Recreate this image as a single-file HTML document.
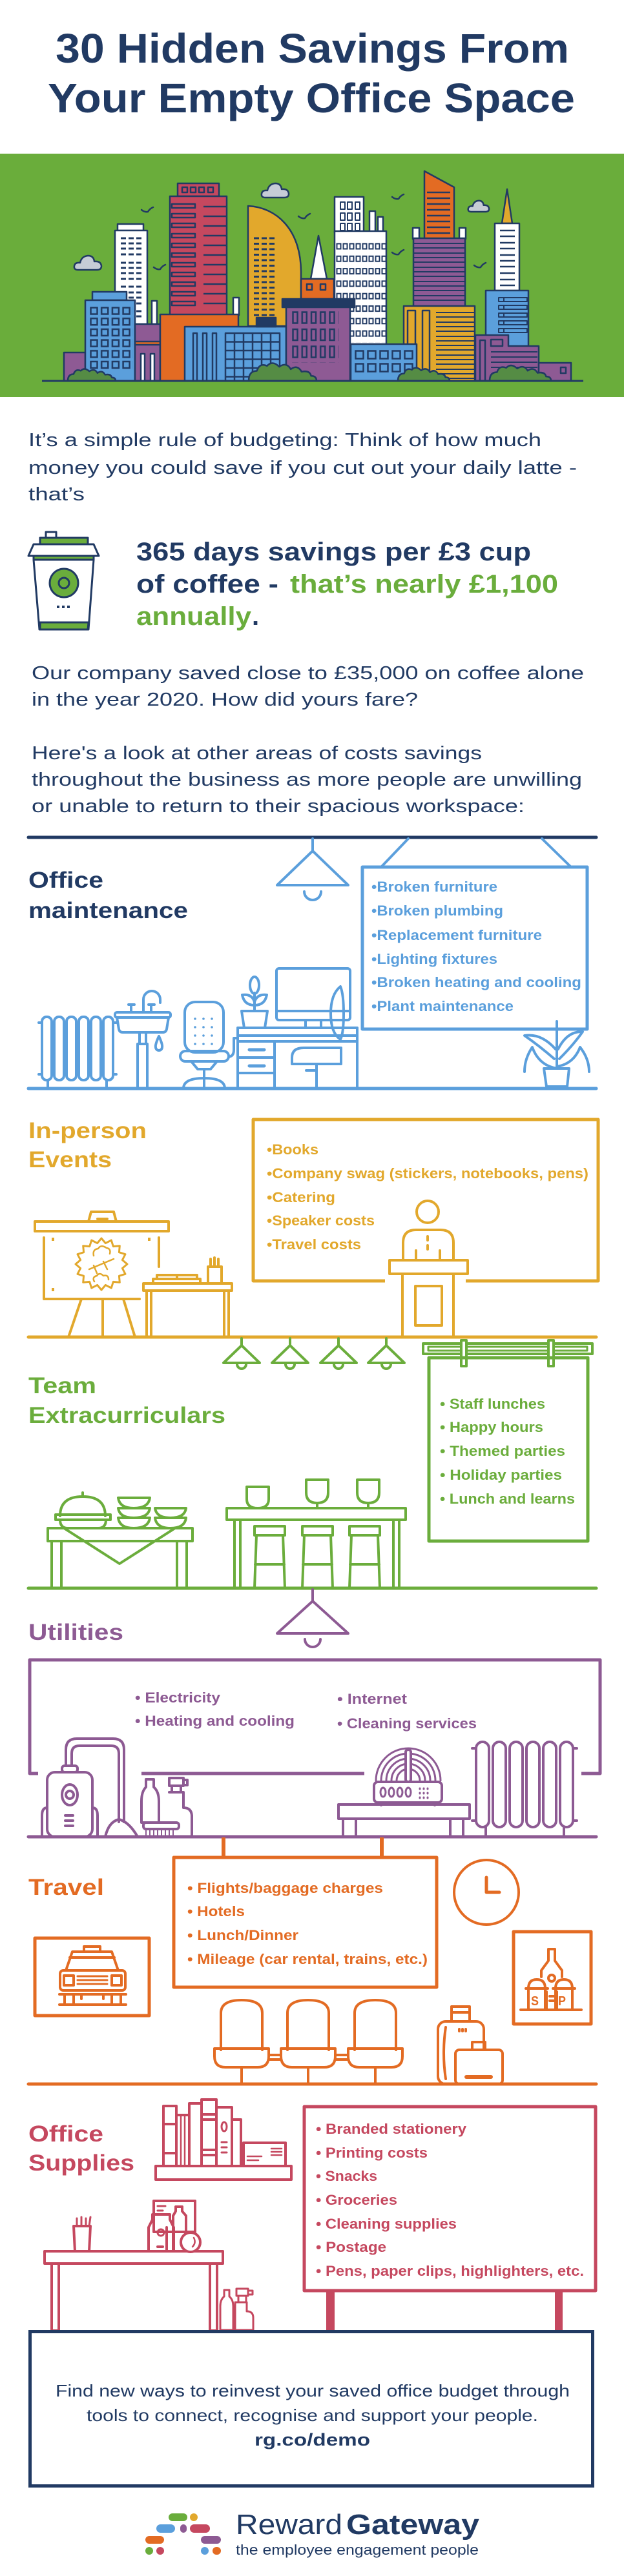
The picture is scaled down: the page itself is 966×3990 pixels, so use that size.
<!DOCTYPE html>
<html><head><meta charset="utf-8">
<style>
html,body{margin:0;padding:0;background:#fff;}
svg{display:block;}
text{font-family:"Liberation Sans",Arial,sans-serif;}
</style></head><body>
<svg width="966" height="3990" viewBox="0 0 966 3990" xmlns="http://www.w3.org/2000/svg">
<defs>
<pattern id="bw" x="139" y="475" width="16.7" height="16.7" patternUnits="userSpaceOnUse"><rect x="1.5" y="1.5" width="10" height="10" fill="#5b9fdc" stroke="#213a63" stroke-width="2.5"/></pattern>
<pattern id="pw" x="452" y="482" width="14.25" height="26.5" patternUnits="userSpaceOnUse"><rect x="1.5" y="1.5" width="7" height="17" fill="#8e5a94" stroke="#213a63" stroke-width="2.5"/></pattern>
<pattern id="lw" x="549" y="542" width="19" height="20" patternUnits="userSpaceOnUse"><rect x="1.5" y="1.5" width="12" height="12" fill="#5b9fdc" stroke="#213a63" stroke-width="2.5"/></pattern>
<pattern id="ow" x="520" y="376" width="10" height="19.3" patternUnits="userSpaceOnUse"><rect x="1.5" y="1.5" width="6" height="8" fill="#fff" stroke="#213a63" stroke-width="2"/></pattern>
</defs>

<!-- TITLE -->
<text x="86" y="97" font-size="64" font-weight="bold" fill="#213a63" textLength="795" lengthAdjust="spacingAndGlyphs">30 Hidden Savings From</text>
<text x="74" y="174" font-size="64" font-weight="bold" fill="#213a63" textLength="816" lengthAdjust="spacingAndGlyphs">Your Empty Office Space</text>

<!-- BANNER -->
<rect x="0" y="238" width="966" height="377" fill="#6aad3b"/>
<g stroke="#213a63" stroke-width="2.5" stroke-linejoin="round">
<polygon points="657,265 703,290 703,370 657,370" fill="#e36b23"/>
<path d="M661,298H697M661,307H697M661,316H697M661,325H697M661,334H697M661,343H697M661,352H697M661,361H697" fill="none"/>
<rect x="639" y="353" width="10" height="17" fill="#fff"/>
<rect x="711" y="353" width="10" height="17" fill="#fff"/>
<rect x="640" y="369" width="80" height="105" fill="#8e5a94"/>
<path d="M640,377H720M640,384H720M640,392H720M640,399H720M640,406H720M640,414H720M640,421H720M640,428H720M640,436H720M640,443H720M640,450H720M640,458H720M640,465H720" fill="none" stroke-width="2"/>
<polygon points="785,293 777,346 793,346" fill="#e2a82c"/>
<rect x="766" y="346" width="38" height="104" fill="#fff"/>
<path d="M774,357H797M774,366H797M774,376H797M774,385H797M774,395H797M774,404H797M774,413H797M774,423H797M774,433H797M774,442H797" fill="none"/>
<rect x="752" y="450" width="66" height="86" fill="#5b9fdc"/>
<path d="M772,461H816V467H772ZM772,473H816V479H772ZM772,485H816V491H772ZM772,497H816V503H772ZM772,509H816V515H772ZM780,461V467M780,473V479M780,485V491M780,497V503M780,509V515" fill="none" stroke-width="2"/>
<path d="M736,590V519H787V536H834V590Z" fill="#8e5a94"/>
<rect x="743" y="527" width="8" height="63" fill="none"/>
<rect x="760" y="526" width="18" height="10" fill="none"/>
<path d="M760,545H832M760,553H832M760,561H832M760,569H832" fill="none" stroke-width="2"/>
<rect x="834" y="562" width="50" height="28" fill="#8e5a94"/>
<rect x="868" y="569" width="8" height="9" fill="none"/>
<rect x="625" y="474" width="110" height="116" fill="#e2a82c"/>
<rect x="631" y="481" width="12" height="109" fill="#e2a82c"/>
<rect x="654" y="481" width="11" height="109" fill="#e2a82c"/>
<path d="M675,484H735M675,491H735M675,499H735M675,506H735M675,513H735M675,521H735M675,528H735M675,535H735M675,542H735M675,550H735M675,557H735M675,564H735M675,572H735M675,579H735M675,586H735" fill="none" stroke-width="2"/>
<rect x="518" y="305" width="45" height="55" fill="#fff"/>
<rect x="572" y="327" width="9" height="33" fill="#fff"/>
<rect x="585" y="336" width="8" height="24" fill="#fff"/>
<rect x="518" y="358" width="80" height="175" fill="#fff"/>
<path d="M527,313h7v11h-7zM538,313h7v11h-7zM550,313h7v11h-7zM527,330h7v11h-7zM538,330h7v11h-7zM550,330h7v11h-7zM527,346h7v11h-7zM538,346h7v11h-7zM550,346h7v11h-7z" fill="none" stroke-width="2"/>
<rect x="520" y="376" width="78" height="155" fill="url(#ow)" stroke="none"/>
<rect x="182" y="347" width="40" height="10" fill="#fff"/>
<rect x="178" y="357" width="50" height="145" fill="#fff"/>
<path d="M187,369h8m4,0h8m4,0h8M187,377h8m4,0h8m4,0h8M187,385h8m4,0h8m4,0h8M187,394h8m4,0h8m4,0h8M187,407h8m4,0h8m4,0h8M187,415h8m4,0h8m4,0h8M187,423h8m4,0h8m4,0h8M187,432h8m4,0h8m4,0h8M187,444h8m4,0h8m4,0h8M187,453h8m4,0h8m4,0h8M187,461h8m4,0h8m4,0h8M187,470h8m4,0h8m4,0h8M187,482h8m4,0h8m4,0h8M187,490h8m4,0h8m4,0h8" fill="none" stroke-width="3"/>
<rect x="235" y="466" width="8" height="36" fill="#fff"/>
<rect x="361" y="461" width="9" height="27" fill="#fff"/>
<rect x="275" y="284" width="64" height="20" fill="#c5485f"/>
<path d="M282,290h8v8h-8zM295,290h8v8h-8zM308,290h8v8h-8zM322,290h8v8h-8z" fill="none"/>
<rect x="263" y="304" width="88" height="184" fill="#c5485f"/>
<path d="M266,316h36v6h-36zM266,331h36v6h-36zM266,346h36v6h-36zM266,362h36v6h-36zM266,377h36v6h-36zM266,392h36v6h-36zM266,407h36v6h-36zM266,422h36v6h-36zM266,437h36v6h-36zM266,452h36v6h-36zM266,467h36v6h-36z" fill="none"/>
<path d="M315,320H351M315,335H351M315,350H351M315,365H351M315,380H351M315,395H351M315,410H351M315,425H351M315,440H351M315,455H351M315,470H351" fill="none"/>
<path d="M384,505V319C428,321 465,355 466,420V505Z" fill="#e2a82c"/>
<path d="M393,369h8m4,0h8m4,0h8M393,377.5h8m4,0h8m4,0h8M393,386h8m4,0h8m4,0h8M393,394.5h8m4,0h8m4,0h8M393,403h8m4,0h8m4,0h8M393,411.5h8m4,0h8m4,0h8M393,420h8m4,0h8m4,0h8M393,428.5h8m4,0h8m4,0h8M393,437h8m4,0h8m4,0h8M393,445.5h8m4,0h8m4,0h8M393,454h8m4,0h8m4,0h8M393,462.5h8m4,0h8m4,0h8M393,471h8m4,0h8m4,0h8M393,479.5h8m4,0h8m4,0h8M393,488h8m4,0h8m4,0h8" fill="none" stroke-width="3"/>
<rect x="99" y="546" width="33" height="44" fill="#8e5a94"/>
<rect x="143" y="452" width="53" height="13" fill="#5b9fdc"/>
<rect x="132" y="465" width="77" height="125" fill="#5b9fdc"/>
<rect x="139" y="475" width="67" height="100" fill="url(#bw)" stroke="none"/>
<rect x="209" y="502" width="39" height="88" fill="#8e5a94"/>
<rect x="209" y="529" width="39" height="5" fill="#e36b23"/>
<rect x="218" y="548" width="6" height="42" fill="#fff"/>
<rect x="233" y="548" width="6" height="42" fill="#fff"/>
<rect x="248" y="487" width="121" height="103" fill="#e36b23"/>
<rect x="286" y="506" width="157" height="84" fill="#5b9fdc"/>
<rect x="299" y="516" width="6" height="74" fill="#5b9fdc"/>
<rect x="314" y="516" width="6" height="74" fill="#5b9fdc"/>
<rect x="329" y="516" width="6" height="74" fill="#5b9fdc"/>
<rect x="349" y="516" width="84" height="74" fill="#5b9fdc"/>
<path d="M363,516V590M377,516V590M391,516V590M405,516V590M419,516V590M349,529.5H433M349,543H433M349,556.5H433M349,570H433M349,583.5H433" fill="none"/>
<rect x="397" y="492" width="30" height="14" fill="#213a63"/>
<polygon points="493,365 481,432 506,432" fill="#fff"/>
<rect x="466" y="432" width="51" height="31" fill="#e36b23"/>
<rect x="475" y="440" width="8" height="9" fill="none"/>
<rect x="496" y="440" width="8" height="9" fill="none"/>
<rect x="437" y="463" width="112" height="13" fill="#213a63"/>
<rect x="443" y="476" width="99" height="114" fill="#8e5a94"/>
<rect x="452" y="482" width="72" height="80" fill="url(#pw)" stroke="none"/>
<rect x="543" y="533" width="102" height="57" fill="#5b9fdc"/>
<rect x="549" y="542" width="96" height="40" fill="url(#lw)" stroke="none"/>
<!-- bushes -->
<g fill="#558c44">
<path transform="translate(105,569) scale(0.74,0.875)" vector-effect="non-scaling-stroke" d="M0,24Q0,12 12,12Q16,2 27,6Q35,-1 45,7Q56,1 62,10Q72,4 78,13Q90,11 92,18Q100,18 100,24Z"/>
<path transform="translate(385,559) scale(1.05,1.29)" vector-effect="non-scaling-stroke" d="M0,24Q0,12 12,12Q16,2 27,6Q35,-1 45,7Q56,1 62,10Q72,4 78,13Q90,11 92,18Q100,18 100,24Z"/>
<path transform="translate(616,567) scale(0.8,0.96)" vector-effect="non-scaling-stroke" d="M0,24Q0,12 12,12Q16,2 27,6Q35,-1 45,7Q56,1 62,10Q72,4 78,13Q90,11 92,18Q100,18 100,24Z"/>
<path transform="translate(758,563) scale(0.95,1.12)" vector-effect="non-scaling-stroke" d="M0,24Q0,12 12,12Q16,2 27,6Q35,-1 45,7Q56,1 62,10Q72,4 78,13Q90,11 92,18Q100,18 100,24Z"/>
</g>
<line x1="65" y1="590" x2="903" y2="590" stroke-width="3"/>
<!-- clouds -->
<g fill="#c6ccd6">
<path transform="translate(404,283)" d="M7,23Q0,23 1,17Q2,11 10,12Q12,2 22,1Q31,1 32,10Q42,9 43,17Q43,23 36,23Z"/>
<path transform="translate(724,310) scale(0.77,0.78)" vector-effect="non-scaling-stroke" d="M7,23Q0,23 1,17Q2,11 10,12Q12,2 22,1Q31,1 32,10Q42,9 43,17Q43,23 36,23Z"/>
<path transform="translate(114,395)" d="M7,23Q0,23 1,17Q2,11 10,12Q12,2 22,1Q31,1 32,10Q42,9 43,17Q43,23 36,23Z"/>
</g>
<g fill="none" stroke-width="2.5" stroke-linecap="round">
<path d="M219,325Q224,329 229,328Q232,323 237,321"/>
<path d="M238,414Q243,418 248,417Q251,412 256,410"/>
<path d="M462,335Q467,339 472,338Q475,333 480,331"/>
<path d="M607,305Q612,309 617,308Q620,303 625,301"/>
<path d="M607,391Q612,395 617,394Q620,389 625,387"/>
<path d="M734,411Q739,415 744,414Q747,409 752,407"/>
</g>
</g>

<!-- INTRO -->
<g font-size="29" fill="#213a63">
<text x="44" y="691" textLength="794" lengthAdjust="spacingAndGlyphs">It’s a simple rule of budgeting: Think of how much</text>
<text x="44" y="734" textLength="849" lengthAdjust="spacingAndGlyphs">money you could save if you cut out your daily latte -</text>
<text x="44" y="775" textLength="87" lengthAdjust="spacingAndGlyphs">that’s</text>
<text x="49" y="1052" textLength="855" lengthAdjust="spacingAndGlyphs">Our company saved close to £35,000 on coffee alone</text>
<text x="49" y="1093" textLength="598" lengthAdjust="spacingAndGlyphs">in the year 2020. How did yours fare?</text>
<text x="49" y="1176" textLength="697" lengthAdjust="spacingAndGlyphs">Here's a look at other areas of costs savings</text>
<text x="49" y="1217" textLength="852" lengthAdjust="spacingAndGlyphs">throughout the business as more people are unwilling</text>
<text x="49" y="1258" textLength="763" lengthAdjust="spacingAndGlyphs">or unable to return to their spacious workspace:</text>
</g>

<!-- COFFEE -->
<g stroke="#213a63" stroke-width="3" stroke-linejoin="round">
<rect x="71" y="824" width="16" height="9" fill="#fff"/>
<rect x="62" y="833" width="74" height="10" fill="#6aad3c"/>
<polygon points="52,843 145,843 153,861 44,861" fill="#fff"/>
<rect x="52" y="861" width="93" height="6" fill="#6aad3c"/>
<polygon points="52,867 145,867 137,975 61,975" fill="#fff"/>
<polygon points="62,964 137,964 136,975 62,975" fill="#6aad3c"/>
<circle cx="99" cy="903" r="22" fill="#6aad3c"/>
<circle cx="99" cy="903" r="8" fill="#6aad3c"/>
</g>
<g fill="#213a63"><rect x="88" y="938" width="4" height="4"/><rect x="96" y="938" width="4" height="4"/><rect x="104" y="938" width="4" height="4"/></g>
<g font-size="40" font-weight="bold">
<text x="211" y="868" fill="#213a63" textLength="611" lengthAdjust="spacingAndGlyphs">365 days savings per £3 cup</text>
<text x="211" y="918" fill="#213a63" textLength="220" lengthAdjust="spacingAndGlyphs">of coffee -</text>
<text x="449" y="918" fill="#6aad3c" textLength="415" lengthAdjust="spacingAndGlyphs">that’s nearly £1,100</text>
<text x="211" y="968" fill="#6aad3c" textLength="178" lengthAdjust="spacingAndGlyphs">annually</text>
<text x="390" y="968" fill="#213a63">.</text>
</g>

<!-- OFFICE MAINTENANCE -->
<line x1="44" y1="1297" x2="923" y2="1297" stroke="#213a63" stroke-width="5" stroke-linecap="round"/>
<g font-size="35" font-weight="bold" fill="#213a63">
<text x="44" y="1375" textLength="116" lengthAdjust="spacingAndGlyphs">Office</text>
<text x="44" y="1422" textLength="247" lengthAdjust="spacingAndGlyphs">maintenance</text>
</g>
<g fill="none" stroke="#5b9fdc" stroke-width="4" stroke-linecap="round" stroke-linejoin="round">
<line x1="484" y1="1299" x2="484" y2="1318"/>
<polygon points="484,1318 429,1371 539,1371"/>
<path d="M471,1381A13,13 0 0 0 497,1381"/>
<line x1="632" y1="1299" x2="590" y2="1343"/>
<line x1="839" y1="1299" x2="884" y2="1343"/>
<rect x="561" y="1343" width="348" height="251" stroke-width="5" stroke-linecap="butt"/>
<line x1="44" y1="1686" x2="923" y2="1686" stroke-width="5"/>
<rect x="65" y="1575" width="15" height="98" rx="7"/>
<rect x="84" y="1575" width="15" height="98" rx="7"/>
<rect x="103" y="1575" width="15" height="98" rx="7"/>
<rect x="122" y="1575" width="15" height="98" rx="7"/>
<rect x="141" y="1575" width="15" height="98" rx="7"/>
<rect x="160" y="1575" width="15" height="98" rx="7"/>
<path d="M74,1673V1686M165,1673V1686M60,1584H65M175,1584H180M60,1664H65M175,1664H180"/>
<rect x="178" y="1568" width="86" height="8" rx="3"/>
<path d="M181,1576L184,1594Q185,1599 190,1599H252Q257,1599 258,1594L261,1576"/>
<path d="M216,1599V1617M226,1599V1617"/>
<rect x="213" y="1617" width="15" height="69"/>
<path d="M222,1568V1548A13,13 0 0 1 248,1548V1553"/>
<path d="M203,1567V1558M199,1556H208M234,1567V1558M230,1556H239"/>
<path d="M246,1605Q240,1618 241,1622A5,5 0 0 0 251,1622Q252,1618 246,1605Z"/>
<rect x="286" y="1552" width="60" height="78" rx="16"/>
<rect x="279" y="1628" width="75" height="16" rx="8"/>
<path d="M296,1644L306,1656H326L336,1644M316,1656V1686M284,1686Q284,1670 316,1670Q348,1670 348,1686"/>
<path d="M354,1637Q362,1636 362,1626V1608H368"/>
<rect x="368" y="1592" width="185" height="21"/>
<line x1="368" y1="1604" x2="553" y2="1604"/>
<rect x="368" y="1613" width="57" height="73"/>
<path d="M368,1638H425M368,1662H425M553,1613V1686"/>
<path d="M386,1626H409M386,1651H409" stroke-width="5"/>
<rect x="428" y="1500" width="114" height="80" rx="4"/>
<path d="M428,1566H542M473,1580V1592M497,1580V1592"/>
<path d="M374,1566H414L410,1592H378Z"/>
<path d="M394,1566V1538"/>
<ellipse cx="394" cy="1526" rx="7" ry="13"/>
<path d="M394,1557Q378,1557 375,1541Q390,1539 394,1552M394,1557Q410,1557 413,1541Q398,1539 394,1552"/>
<path d="M527,1528Q512,1540 512,1570Q512,1600 527,1610Q532,1600 532,1570Q532,1540 527,1528Z"/>
<path d="M452,1648V1638Q452,1623 470,1623H528V1648Z"/>
<path d="M490,1648V1686M474,1658H490"/>
<path d="M842,1655H881L878,1683H846Z"/>
<path d="M862,1582V1655"/>
<path d="M862,1655Q834,1650 824,1622Q812,1640 812,1660M862,1652Q888,1648 898,1622Q912,1640 912,1660"/>
<path d="M858,1640Q835,1620 812,1604Q838,1600 860,1625M866,1640Q888,1618 902,1598Q878,1597 864,1625"/>
</g>
<g fill="#5b9fdc">
<circle cx="302" cy="1578" r="1.8"/><circle cx="315" cy="1578" r="1.8"/><circle cx="328" cy="1578" r="1.8"/>
<circle cx="302" cy="1591" r="1.8"/><circle cx="315" cy="1591" r="1.8"/><circle cx="328" cy="1591" r="1.8"/>
<circle cx="302" cy="1604" r="1.8"/><circle cx="315" cy="1604" r="1.8"/><circle cx="328" cy="1604" r="1.8"/>
<circle cx="302" cy="1617" r="1.8"/><circle cx="315" cy="1617" r="1.8"/><circle cx="328" cy="1617" r="1.8"/>
</g>
<g font-size="22" font-weight="bold" fill="#5b9fdc">
<text x="575" y="1381" textLength="195" lengthAdjust="spacingAndGlyphs">•Broken furniture</text>
<text x="575" y="1418" textLength="204" lengthAdjust="spacingAndGlyphs">•Broken plumbing</text>
<text x="575" y="1456" textLength="264" lengthAdjust="spacingAndGlyphs">•Replacement furniture</text>
<text x="575" y="1493" textLength="195" lengthAdjust="spacingAndGlyphs">•Lighting fixtures</text>
<text x="575" y="1529" textLength="325" lengthAdjust="spacingAndGlyphs">•Broken heating and cooling</text>
<text x="575" y="1566" textLength="220" lengthAdjust="spacingAndGlyphs">•Plant maintenance</text>
</g>

<!-- IN-PERSON EVENTS -->
<g font-size="35" font-weight="bold" fill="#e2a82c">
<text x="44" y="1763" textLength="183" lengthAdjust="spacingAndGlyphs">In-person</text>
<text x="44" y="1808" textLength="129" lengthAdjust="spacingAndGlyphs">Events</text>
</g>
<g font-size="22" font-weight="bold" fill="#e2a82c">
<text x="413" y="1788" textLength="80" lengthAdjust="spacingAndGlyphs">•Books</text>
<text x="413" y="1825" textLength="498" lengthAdjust="spacingAndGlyphs">•Company swag (stickers, notebooks, pens)</text>
<text x="413" y="1862" textLength="106" lengthAdjust="spacingAndGlyphs">•Catering</text>
<text x="413" y="1898" textLength="167" lengthAdjust="spacingAndGlyphs">•Speaker costs</text>
<text x="413" y="1935" textLength="146" lengthAdjust="spacingAndGlyphs">•Travel costs</text>
</g>
<g fill="none" stroke="#e2a82c" stroke-width="4" stroke-linecap="round" stroke-linejoin="round">
<path d="M596,1984H392V1734H926V1984H721" stroke-width="5" stroke-linecap="butt"/>
<rect x="54" y="1892" width="207" height="15"/>
<path d="M137,1892L141,1877H176L180,1892M151,1888H166"/>
<path d="M68,1917V2012H216M246,1917V1962"/>
<path d="M106,2071L126,2012M159,2012V2071M191,2012L209,2071"/>
<polygon stroke-width="3" points="197,1958 189.4,1964.4 194,1973.3 184.4,1976.3 185.3,1986.3 175.3,1985.4 172.3,1995 163.4,1990.4 157,1998 150.6,1990.4 141.7,1995 138.7,1985.4 128.7,1986.3 129.6,1976.3 120,1973.3 124.6,1964.4 117,1958 124.6,1951.6 120,1942.7 129.6,1939.7 128.7,1929.7 138.7,1930.6 141.7,1921 150.6,1925.6 157,1918 163.4,1925.6 172.3,1921 175.3,1930.6 185.3,1929.7 184.4,1939.7 194,1942.7 189.4,1951.6"/>
<path stroke-width="2.5" d="M145,1945Q143,1935 152,1934Q156,1927 165,1933Q172,1934 170,1942M138,1966L176,1950M145,1960L150,1972M160,1954L166,1966M146,1985Q142,1978 150,1976Q154,1970 160,1976Q168,1974 168,1982"/>
<rect x="222" y="1988" width="137" height="11"/>
<rect x="227" y="1999" width="7" height="72"/>
<rect x="347" y="1999" width="7" height="72"/>
<rect x="237" y="1981" width="73" height="7"/>
<path d="M243,1981V1975H305V1981M274,1975V1981"/>
<rect x="322" y="1962" width="21" height="26"/>
<path d="M326,1962V1950M332,1962V1948M338,1962V1950"/>
<circle cx="662" cy="1877" r="17"/>
<path d="M624,1952V1925Q624,1905 644,1905H682Q702,1905 702,1925V1952"/>
<path d="M644,1937V1952M681,1937V1952M662,1915V1921M662,1929V1935"/>
<rect x="603" y="1952" width="121" height="21"/>
<rect x="623" y="1973" width="79" height="98"/>
<rect x="643" y="1992" width="41" height="61"/>
<line x1="44" y1="2071" x2="923" y2="2071" stroke-width="5"/>
</g>
<g fill="#e2a82c"><rect x="80" y="1917" width="4" height="5"/><rect x="229" y="1917" width="4" height="5"/><rect x="80" y="1995" width="4" height="5"/></g>

<!-- TEAM -->
<g font-size="35" font-weight="bold" fill="#6bad3c">
<text x="44" y="2158" textLength="105" lengthAdjust="spacingAndGlyphs">Team</text>
<text x="44" y="2204" textLength="305" lengthAdjust="spacingAndGlyphs">Extracurriculars</text>
</g>
<g font-size="22" font-weight="bold" fill="#6bad3c">
<text x="681" y="2182" textLength="163" lengthAdjust="spacingAndGlyphs">• Staff lunches</text>
<text x="681" y="2218" textLength="160" lengthAdjust="spacingAndGlyphs">• Happy hours</text>
<text x="681" y="2255" textLength="194" lengthAdjust="spacingAndGlyphs">• Themed parties</text>
<text x="681" y="2292" textLength="189" lengthAdjust="spacingAndGlyphs">• Holiday parties</text>
<text x="681" y="2329" textLength="209" lengthAdjust="spacingAndGlyphs">• Lunch and learns</text>
</g>
<g fill="none" stroke="#6bad3c" stroke-width="4" stroke-linecap="round" stroke-linejoin="round">
<path d="M374,2073V2084M449,2073V2084M524,2073V2084M598,2073V2084"/>
<polygon points="374,2084 346,2111 402,2111"/>
<polygon points="449,2084 421,2111 477,2111"/>
<polygon points="524,2084 496,2111 552,2111"/>
<polygon points="598,2084 570,2111 626,2111"/>
<path d="M367,2113A7,7 0 0 0 381,2113M442,2113A7,7 0 0 0 456,2113M517,2113A7,7 0 0 0 531,2113M591,2113A7,7 0 0 0 605,2113"/>
<rect x="655" y="2081" width="262" height="16"/>
<rect x="663" y="2086" width="246" height="6" stroke-width="3"/>
<rect x="714" y="2076" width="8" height="40" fill="#fff"/>
<rect x="849" y="2076" width="8" height="40" fill="#fff"/>
<rect x="664" y="2103" width="246" height="284" stroke-width="5" stroke-linecap="butt"/>
<rect x="74" y="2367" width="224" height="20"/>
<rect x="80" y="2387" width="15" height="73"/>
<rect x="274" y="2387" width="15" height="73"/>
<polyline points="99,2367 185,2422 271,2367"/>
<path d="M93,2348Q93,2318 128,2318Q163,2318 163,2348M128,2318V2312"/>
<rect x="86" y="2346" width="85" height="8"/>
<path d="M93,2354Q93,2367 105,2367H152Q164,2367 164,2354"/>
<path d="M183,2320H232Q230,2336 207,2336Q185,2336 183,2320ZM183,2336H232Q230,2351 207,2351Q185,2351 183,2336ZM183,2351H232Q230,2367 207,2367Q185,2367 183,2351Z"/>
<path d="M240,2336H288Q286,2351 264,2351Q242,2351 240,2336ZM240,2351H288Q286,2367 264,2367Q242,2367 240,2351Z"/>
<rect x="351" y="2336" width="277" height="18"/>
<rect x="363" y="2354" width="9" height="106"/>
<rect x="609" y="2354" width="9" height="106"/>
<path d="M382,2303H416V2322Q416,2336 399,2336Q382,2336 382,2322Z"/>
<path d="M474,2292H508V2312Q508,2328 491,2328Q474,2328 474,2312ZM491,2328V2336"/>
<path d="M553,2292H587V2312Q587,2328 570,2328Q553,2328 553,2312ZM570,2328V2336"/>
<rect x="394" y="2364" width="47" height="14"/>
<rect x="468" y="2364" width="47" height="14"/>
<rect x="541" y="2364" width="47" height="14"/>
<path d="M397,2378L394,2460M438,2378L441,2460M395,2423H440M471,2378L468,2460M512,2378L515,2460M469,2423H514M544,2378L541,2460M585,2378L588,2460M542,2423H587"/>
<line x1="44" y1="2460" x2="923" y2="2460" stroke-width="5"/>
</g>

<!-- UTILITIES -->
<text x="44" y="2540" font-size="35" font-weight="bold" fill="#8d5a93" textLength="147" lengthAdjust="spacingAndGlyphs">Utilities</text>
<g font-size="22" font-weight="bold" fill="#8d5a93">
<text x="209" y="2637" textLength="132" lengthAdjust="spacingAndGlyphs">• Electricity</text>
<text x="209" y="2673" textLength="247" lengthAdjust="spacingAndGlyphs">• Heating and cooling</text>
<text x="522" y="2639" textLength="108" lengthAdjust="spacingAndGlyphs">• Internet</text>
<text x="522" y="2677" textLength="216" lengthAdjust="spacingAndGlyphs">• Cleaning services</text>
</g>
<g fill="none" stroke="#8d5a93" stroke-width="4" stroke-linecap="round" stroke-linejoin="round">
<line x1="484" y1="2462" x2="484" y2="2480"/>
<polygon points="484,2480 429,2530 539,2530"/>
<path d="M472,2539A12,12 0 0 0 496,2539"/>
<path d="M59,2747H46V2571H929V2747H900M219,2747H564" stroke-width="5" stroke-linecap="butt"/>
<rect x="73" y="2745" width="70" height="100" rx="12"/>
<path d="M65,2845V2812Q65,2800 73,2800M151,2845V2812Q151,2800 143,2800"/>
<rect x="96" y="2735" width="24" height="10" rx="4"/>
<ellipse cx="108" cy="2780" rx="12" ry="16"/>
<circle cx="108" cy="2780" r="6"/>
<path d="M101,2812H113M101,2820H113M101,2828H113"/>
<path d="M102,2735V2710Q102,2693 119,2693H175Q192,2693 192,2710V2822M111,2735V2716Q111,2704 123,2704H172Q184,2704 184,2716V2822"/>
<path d="M163,2845Q168,2822 184,2818Q200,2822 213,2845Z"/>
<path d="M226,2756H238V2768Q246,2775 246,2790V2823H219V2790Q219,2775 226,2768Z"/>
<rect x="222" y="2823" width="55" height="10" rx="4"/>
<path d="M226,2834V2843M232,2834V2843M238,2834V2843M244,2834V2843M250,2834V2843M256,2834V2843M262,2834V2843M268,2834V2843" stroke-width="2"/>
<rect x="262" y="2754" width="22" height="12"/>
<rect x="284" y="2757" width="6" height="8"/>
<path d="M266,2766V2776H280V2766M262,2776H284V2800Q296,2800 297,2812V2845H277"/>
<rect x="524" y="2795" width="203" height="22"/>
<rect x="531" y="2817" width="20" height="28"/>
<rect x="697" y="2817" width="20" height="28"/>
<rect x="579" y="2760" width="105" height="32" rx="6"/>
<ellipse cx="593" cy="2776" rx="4" ry="7" stroke-width="3"/>
<ellipse cx="606" cy="2776" rx="4" ry="7" stroke-width="3"/>
<ellipse cx="619" cy="2776" rx="4" ry="7" stroke-width="3"/>
<ellipse cx="632" cy="2776" rx="4" ry="7" stroke-width="3"/>
<path d="M650,2770v1M656,2770v1M662,2770v1M650,2777v1M656,2777v1M662,2777v1M650,2784v1M656,2784v1M662,2784v1" stroke-width="3"/>
<path d="M590,2792V2796M673,2792V2796"/>
<path stroke-width="3" d="M582,2758A50,50 0 0 1 682,2758M590,2758A42,42 0 0 1 674,2758M598,2758A34,34 0 0 1 666,2758M606,2758A26,26 0 0 1 658,2758M614,2758A18,18 0 0 1 650,2758"/>
<rect x="628" y="2710" width="8" height="50" rx="4" fill="#fff"/>
<rect x="737" y="2698" width="20" height="132" rx="10"/>
<rect x="763" y="2698" width="20" height="132" rx="10"/>
<rect x="789" y="2698" width="20" height="132" rx="10"/>
<rect x="815" y="2698" width="20" height="132" rx="10"/>
<rect x="841" y="2698" width="20" height="132" rx="10"/>
<rect x="867" y="2698" width="20" height="132" rx="10"/>
<path d="M752,2830V2845M873,2830V2845M731,2708H737M887,2708H893M731,2820H737M887,2820H893"/>
<line x1="44" y1="2845" x2="923" y2="2845" stroke-width="5"/>
</g>

<!-- TRAVEL -->
<text x="44" y="2935" font-size="35" font-weight="bold" fill="#e36b23" textLength="117" lengthAdjust="spacingAndGlyphs">Travel</text>
<g font-size="22" font-weight="bold" fill="#e36b23">
<text x="290" y="2932" textLength="303" lengthAdjust="spacingAndGlyphs">• Flights/baggage charges</text>
<text x="290" y="2968" textLength="89" lengthAdjust="spacingAndGlyphs">• Hotels</text>
<text x="290" y="3005" textLength="172" lengthAdjust="spacingAndGlyphs">• Lunch/Dinner</text>
<text x="290" y="3042" textLength="372" lengthAdjust="spacingAndGlyphs">• Mileage (car rental, trains, etc.)</text>
<text x="822" y="3106" font-size="20" textLength="12" lengthAdjust="spacingAndGlyphs">S</text>
<text x="864" y="3106" font-size="20" textLength="12" lengthAdjust="spacingAndGlyphs">P</text>
</g>
<g fill="#e36b23"><rect x="343" y="2846" width="6" height="32"/><rect x="588" y="2846" width="6" height="32"/></g>
<g fill="none" stroke="#e36b23" stroke-width="4" stroke-linecap="round" stroke-linejoin="round">
<rect x="269" y="2877" width="407" height="201" stroke-width="5" stroke-linecap="butt"/>
<circle cx="753" cy="2931" r="50"/>
<path d="M753,2908V2931H773" stroke-width="5"/>
<rect x="54" y="3002" width="177" height="120" stroke-width="5"/>
<rect x="130" y="3015" width="25" height="8"/>
<path d="M112,3023H173L183,3052H102ZM108,3032H177"/>
<rect x="93" y="3052" width="101" height="31" rx="5"/>
<rect x="99" y="3060" width="15" height="15"/>
<rect x="173" y="3060" width="15" height="15"/>
<path d="M120,3061H166M120,3067H166M120,3073H166" stroke-width="3"/>
<path d="M92,3089H195M100,3089V3105M114,3089V3105M173,3089V3105M187,3089V3105M126,3089V3096M160,3089V3096M92,3105H195"/>
<rect x="795" y="2992" width="120" height="143" stroke-width="5"/>
<path d="M849,3019H859V3037L870,3052V3062M849,3019V3037L838,3052V3062"/>
<circle cx="854" cy="3064" r="5"/>
<path d="M818,3112V3080Q818,3066 831,3066Q844,3066 844,3080V3112M860,3112V3080Q860,3066 873,3066Q886,3066 886,3080V3112M814,3080H848M856,3080H890M846,3085V3112M862,3085V3112M851,3092H857M851,3099H857M806,3113H900"/>
<path d="M342,3175V3118Q342,3098 374,3098Q406,3098 406,3118V3175M445,3175V3118Q445,3098 477,3098Q509,3098 509,3118V3175M549,3175V3118Q549,3098 581,3098Q613,3098 613,3118V3175"/>
<path d="M332,3173H416V3185Q416,3202 399,3202H349Q332,3202 332,3185ZM435,3173H519V3185Q519,3202 502,3202H452Q435,3202 435,3185ZM539,3173H623V3185Q623,3202 606,3202H556Q539,3202 539,3185Z"/>
<path d="M374,3202V3228M477,3202V3228M581,3202V3228M416,3183H435M416,3190H435M519,3183H539M519,3190H539"/>
<rect x="678" y="3131" width="71" height="97" rx="12"/>
<path d="M690,3140Q684,3180 690,3220"/>
<rect x="699" y="3108" width="28" height="23"/>
<path d="M699,3117H727M711,3143V3146M716,3143V3146M721,3143V3146"/>
<rect x="731" y="3163" width="20" height="12"/>
<rect x="705" y="3175" width="73" height="53" rx="6" fill="#fff"/>
<path d="M722,3217H760" stroke-width="6"/>
<line x1="44" y1="3228" x2="923" y2="3228" stroke-width="5"/>
</g>

<!-- OFFICE SUPPLIES -->
<g font-size="35" font-weight="bold" fill="#c5485f">
<text x="44" y="3317" textLength="116" lengthAdjust="spacingAndGlyphs">Office</text>
<text x="44" y="3362" textLength="164" lengthAdjust="spacingAndGlyphs">Supplies</text>
</g>
<g font-size="22" font-weight="bold" fill="#c5485f">
<text x="489" y="3305" textLength="233" lengthAdjust="spacingAndGlyphs">• Branded stationery</text>
<text x="489" y="3342" textLength="173" lengthAdjust="spacingAndGlyphs">• Printing costs</text>
<text x="489" y="3378" textLength="95" lengthAdjust="spacingAndGlyphs">• Snacks</text>
<text x="489" y="3415" textLength="126" lengthAdjust="spacingAndGlyphs">• Groceries</text>
<text x="489" y="3452" textLength="218" lengthAdjust="spacingAndGlyphs">• Cleaning supplies</text>
<text x="489" y="3488" textLength="109" lengthAdjust="spacingAndGlyphs">• Postage</text>
<text x="489" y="3525" textLength="415" lengthAdjust="spacingAndGlyphs">• Pens, paper clips, highlighters, etc.</text>
</g>
<g fill="#c5485f"><rect x="505" y="3548" width="13" height="62"/><rect x="859" y="3548" width="12" height="62"/></g>
<g fill="none" stroke="#c5485f" stroke-width="4" stroke-linecap="round" stroke-linejoin="round">
<rect x="471" y="3263" width="451" height="285" stroke-width="5" stroke-linecap="butt"/>
<rect x="241" y="3355" width="210" height="21"/>
<rect x="253" y="3262" width="20" height="93"/>
<path d="M253,3290H273M253,3335H273"/>
<rect x="273" y="3276" width="20" height="79"/>
<path d="M280,3276V3355M286,3276V3355" stroke-width="2.5"/>
<rect x="293" y="3258" width="19" height="97"/>
<rect x="312" y="3252" width="23" height="103"/>
<path d="M312,3275H335M312,3283H335M312,3330H335M312,3338H335"/>
<rect x="335" y="3264" width="24" height="91"/>
<ellipse cx="347" cy="3294" rx="4" ry="7" stroke-width="3"/>
<path d="M343,3318H351M343,3326H351M343,3334H351" stroke-width="3"/>
<rect x="359" y="3283" width="14" height="72"/>
<rect x="377" y="3319" width="65" height="36"/>
<path d="M383,3340H405M383,3346H400M420,3328H436M420,3333H436M420,3338H436" stroke-width="2.5"/>
<rect x="69" y="3487" width="276" height="19"/>
<rect x="80" y="3506" width="11" height="104"/>
<rect x="325" y="3506" width="11" height="104"/>
<path d="M114,3448H140L138,3487H116Z"/>
<path d="M119,3448V3436M126,3448V3434M133,3448V3436M138,3448L140,3434" stroke-width="3"/>
<rect x="238" y="3409" width="64" height="48"/>
<path d="M244,3417H256M244,3424H252" stroke-width="3"/>
<path d="M268,3487V3432L272,3425V3418H282V3425L288,3432V3470"/>
<path d="M236,3430H263V3438L269,3450V3487H230V3450L236,3438Z"/>
<circle cx="249" cy="3458" r="5" stroke-width="3"/>
<path d="M258,3450V3487M244,3480H252"/>
<circle cx="295" cy="3473" r="15" fill="#fff"/>
<path d="M300,3466Q304,3474 298,3480" stroke-width="2.5"/>
<path d="M347,3547H355V3557Q361,3562 361,3572V3609H341V3572Q341,3562 347,3557ZM366,3545H384V3556H366ZM384,3548H391V3554H384ZM369,3556V3566H381V3556M364,3566H382V3580Q392,3580 392,3590V3609H364Z" stroke-width="3"/>
</g>

<!-- FOOTER -->
<rect x="46.5" y="3611.5" width="871" height="239" fill="#fff" stroke="#213a63" stroke-width="5"/>
<g fill="#213a63">
<text x="86" y="3712" font-size="26" textLength="796" lengthAdjust="spacingAndGlyphs">Find new ways to reinvest your saved office budget through</text>
<text x="134" y="3750" font-size="26" textLength="699" lengthAdjust="spacingAndGlyphs">tools to connect, recognise and support your people.</text>
<text x="394" y="3788" font-size="27" font-weight="bold" textLength="179" lengthAdjust="spacingAndGlyphs">rg.co/demo</text>
</g>

<!-- LOGO -->
<rect x="261" y="3893" width="29" height="12" rx="6" fill="#6aad3c"/>
<rect x="294" y="3893" width="12" height="12" rx="6" fill="#e2a82c"/>
<rect x="242" y="3910" width="29" height="13" rx="6.5" fill="#5b9fdc"/>
<rect x="279" y="3910" width="10" height="13" rx="5" fill="#8d5a93"/>
<rect x="294" y="3910" width="31" height="13" rx="6.5" fill="#c5485f"/>
<rect x="225" y="3928" width="29" height="12" rx="6" fill="#e36b23"/>
<rect x="311" y="3928" width="31" height="12" rx="6" fill="#8d5a93"/>
<rect x="225" y="3945" width="12" height="12" rx="6" fill="#6aad3c"/>
<rect x="242" y="3945" width="12" height="12" rx="6" fill="#c5485f"/>
<rect x="311" y="3945" width="12" height="12" rx="6" fill="#5b9fdc"/>
<rect x="329" y="3945" width="13" height="12" rx="6" fill="#e36b23"/>
<g fill="#213a63">
<text x="365" y="3925" font-size="44" textLength="165" lengthAdjust="spacingAndGlyphs">Reward</text>
<text x="536" y="3925" font-size="44" font-weight="bold" textLength="206" lengthAdjust="spacingAndGlyphs">Gateway</text>
<text x="365" y="3957" font-size="22" textLength="376" lengthAdjust="spacingAndGlyphs">the employee engagement people</text>
</g>
</svg>
</body></html>
